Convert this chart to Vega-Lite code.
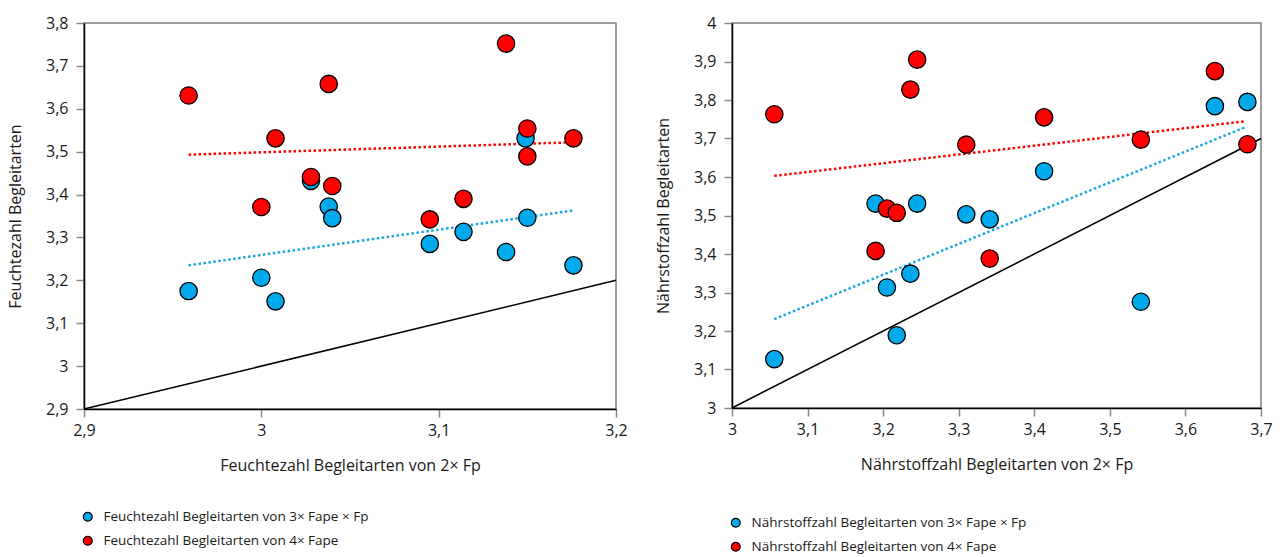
{
  "$schema": "https://vega.github.io/schema/vega-lite/v6.json",
  "padding": {"left": 6, "top": 14, "right": 18, "bottom": 0},
  "autosize": {"type": "pad"},
  "spacing": 26,
  "config": {
    "locale": {"number": {"decimal": ",", "thousands": ".", "grouping": [3], "currency": ["", " €"]}},
    "font": "Open Sans",
    "view": {"stroke": "#7f7f7f", "strokeWidth": 1.5},
    "axis": {
      "grid": false, "domainColor": "#000000", "domainWidth": 1.5,
      "tickColor": "#888888", "tickSize": 8, "tickWidth": 1.5,
      "labelFontSize": 16, "labelColor": "#1a1a1a", "titleFontSize": 16,
      "titleFontWeight": "normal", "titleColor": "#1a1a1a", "format": "~g", "labelFlush": false
    },
    "axisY": {"labelPadding": 8, "titlePadding": 22},
    "axisX": {"labelPadding": 5, "titlePadding": 19},
    "legend": {
      "title": null, "orient": "none", "symbolType": "circle", "symbolSize": 80,
      "symbolStrokeColor": "#000000", "symbolStrokeWidth": 1.2, "labelFontSize": 13.5, "labelLimit": 0,
      "labelColor": "#1a1a1a", "rowPadding": 9, "labelOffset": 9, "direction": "vertical"
    }
  },
  "datasets": {
    "feuchte": [
      {"x": 2.959, "y": 3.175, "serie": "Feuchtezahl Begleitarten von 3× Fape × Fp"},
      {"x": 3.0, "y": 3.206, "serie": "Feuchtezahl Begleitarten von 3× Fape × Fp"},
      {"x": 3.008, "y": 3.151, "serie": "Feuchtezahl Begleitarten von 3× Fape × Fp"},
      {"x": 3.028, "y": 3.432, "serie": "Feuchtezahl Begleitarten von 3× Fape × Fp"},
      {"x": 3.038, "y": 3.372, "serie": "Feuchtezahl Begleitarten von 3× Fape × Fp"},
      {"x": 3.04, "y": 3.345, "serie": "Feuchtezahl Begleitarten von 3× Fape × Fp"},
      {"x": 3.095, "y": 3.285, "serie": "Feuchtezahl Begleitarten von 3× Fape × Fp"},
      {"x": 3.114, "y": 3.313, "serie": "Feuchtezahl Begleitarten von 3× Fape × Fp"},
      {"x": 3.138, "y": 3.266, "serie": "Feuchtezahl Begleitarten von 3× Fape × Fp"},
      {"x": 3.149, "y": 3.531, "serie": "Feuchtezahl Begleitarten von 3× Fape × Fp"},
      {"x": 3.15, "y": 3.346, "serie": "Feuchtezahl Begleitarten von 3× Fape × Fp"},
      {"x": 3.176, "y": 3.235, "serie": "Feuchtezahl Begleitarten von 3× Fape × Fp"},
      {"x": 2.959, "y": 3.631, "serie": "Feuchtezahl Begleitarten von 4× Fape"},
      {"x": 3.0, "y": 3.371, "serie": "Feuchtezahl Begleitarten von 4× Fape"},
      {"x": 3.008, "y": 3.531, "serie": "Feuchtezahl Begleitarten von 4× Fape"},
      {"x": 3.028, "y": 3.441, "serie": "Feuchtezahl Begleitarten von 4× Fape"},
      {"x": 3.038, "y": 3.658, "serie": "Feuchtezahl Begleitarten von 4× Fape"},
      {"x": 3.04, "y": 3.42, "serie": "Feuchtezahl Begleitarten von 4× Fape"},
      {"x": 3.095, "y": 3.342, "serie": "Feuchtezahl Begleitarten von 4× Fape"},
      {"x": 3.114, "y": 3.39, "serie": "Feuchtezahl Begleitarten von 4× Fape"},
      {"x": 3.138, "y": 3.752, "serie": "Feuchtezahl Begleitarten von 4× Fape"},
      {"x": 3.15, "y": 3.554, "serie": "Feuchtezahl Begleitarten von 4× Fape"},
      {"x": 3.15, "y": 3.489, "serie": "Feuchtezahl Begleitarten von 4× Fape"},
      {"x": 3.176, "y": 3.531, "serie": "Feuchtezahl Begleitarten von 4× Fape"}
    ],
    "feuchte_trend": [
      {"x": 2.959, "y": 3.235, "serie": "blau"},
      {"x": 3.176, "y": 3.363, "serie": "blau"},
      {"x": 2.959, "y": 3.493, "serie": "rot"},
      {"x": 3.176, "y": 3.522, "serie": "rot"}
    ],
    "feuchte_diag": [
      {"x": 2.9, "y": 2.9},
      {"x": 3.2, "y": 3.2}
    ],
    "naehr": [
      {"x": 3.056, "y": 3.127, "serie": "Nährstoffzahl Begleitarten von 3× Fape × Fp"},
      {"x": 3.19, "y": 3.531, "serie": "Nährstoffzahl Begleitarten von 3× Fape × Fp"},
      {"x": 3.205, "y": 3.313, "serie": "Nährstoffzahl Begleitarten von 3× Fape × Fp"},
      {"x": 3.218, "y": 3.189, "serie": "Nährstoffzahl Begleitarten von 3× Fape × Fp"},
      {"x": 3.236, "y": 3.349, "serie": "Nährstoffzahl Begleitarten von 3× Fape × Fp"},
      {"x": 3.245, "y": 3.531, "serie": "Nährstoffzahl Begleitarten von 3× Fape × Fp"},
      {"x": 3.31, "y": 3.503, "serie": "Nährstoffzahl Begleitarten von 3× Fape × Fp"},
      {"x": 3.341, "y": 3.49, "serie": "Nährstoffzahl Begleitarten von 3× Fape × Fp"},
      {"x": 3.413, "y": 3.615, "serie": "Nährstoffzahl Begleitarten von 3× Fape × Fp"},
      {"x": 3.541, "y": 3.276, "serie": "Nährstoffzahl Begleitarten von 3× Fape × Fp"},
      {"x": 3.639, "y": 3.784, "serie": "Nährstoffzahl Begleitarten von 3× Fape × Fp"},
      {"x": 3.682, "y": 3.795, "serie": "Nährstoffzahl Begleitarten von 3× Fape × Fp"},
      {"x": 3.056, "y": 3.763, "serie": "Nährstoffzahl Begleitarten von 4× Fape"},
      {"x": 3.19, "y": 3.408, "serie": "Nährstoffzahl Begleitarten von 4× Fape"},
      {"x": 3.205, "y": 3.518, "serie": "Nährstoffzahl Begleitarten von 4× Fape"},
      {"x": 3.218, "y": 3.507, "serie": "Nährstoffzahl Begleitarten von 4× Fape"},
      {"x": 3.236, "y": 3.827, "serie": "Nährstoffzahl Begleitarten von 4× Fape"},
      {"x": 3.245, "y": 3.905, "serie": "Nährstoffzahl Begleitarten von 4× Fape"},
      {"x": 3.31, "y": 3.684, "serie": "Nährstoffzahl Begleitarten von 4× Fape"},
      {"x": 3.341, "y": 3.388, "serie": "Nährstoffzahl Begleitarten von 4× Fape"},
      {"x": 3.413, "y": 3.755, "serie": "Nährstoffzahl Begleitarten von 4× Fape"},
      {"x": 3.541, "y": 3.697, "serie": "Nährstoffzahl Begleitarten von 4× Fape"},
      {"x": 3.639, "y": 3.875, "serie": "Nährstoffzahl Begleitarten von 4× Fape"},
      {"x": 3.682, "y": 3.685, "serie": "Nährstoffzahl Begleitarten von 4× Fape"}
    ],
    "naehr_trend": [
      {"x": 3.056, "y": 3.231, "serie": "blau"},
      {"x": 3.68, "y": 3.73, "serie": "blau"},
      {"x": 3.056, "y": 3.603, "serie": "rot"},
      {"x": 3.68, "y": 3.745, "serie": "rot"}
    ],
    "naehr_diag": [
      {"x": 3.0, "y": 3.0},
      {"x": 3.7, "y": 3.7}
    ]
  },
  "hconcat": [
    {
      "width": 532,
      "height": 386,
      "encoding": {
        "x": {"field": "x", "type": "quantitative", "scale": {"domain": [2.9, 3.2], "nice": false, "zero": false},
              "axis": {"values": [2.9, 3.0, 3.1, 3.2], "title": "Feuchtezahl Begleitarten von 2× Fp"}},
        "y": {"field": "y", "type": "quantitative", "scale": {"domain": [2.9, 3.8], "nice": false, "zero": false},
              "axis": {"values": [2.9, 3.0, 3.1, 3.2, 3.3, 3.4, 3.5, 3.6, 3.7, 3.8], "title": "Feuchtezahl Begleitarten"}}
      },
      "layer": [
        {"data": {"name": "feuchte_diag"}, "mark": {"type": "line", "color": "#000000", "strokeWidth": 1.5}},
        {"data": {"name": "feuchte_trend"}, "transform": [{"filter": "datum.serie == 'blau'"}],
         "mark": {"type": "line", "color": "#1aa7e6", "strokeWidth": 2.5, "strokeDash": [2.5, 2.5]}},
        {"data": {"name": "feuchte_trend"}, "transform": [{"filter": "datum.serie == 'rot'"}],
         "mark": {"type": "line", "color": "#ff0000", "strokeWidth": 2.5, "strokeDash": [2.5, 2.5]}},
        {"data": {"name": "feuchte"},
         "mark": {"type": "point", "filled": true, "size": 300, "stroke": "#000000", "strokeWidth": 1.3, "opacity": 1},
         "encoding": {
           "color": {"field": "serie", "type": "nominal",
                     "scale": {"domain": ["Feuchtezahl Begleitarten von 3× Fape × Fp", "Feuchtezahl Begleitarten von 4× Fape"], "range": ["#00a9ec", "#ff0000"]},
                     "legend": {"legendX": -3, "legendY": 487}}
         }}
      ]
    },
    {
      "width": 529,
      "height": 385,
      "encoding": {
        "x": {"field": "x", "type": "quantitative", "scale": {"domain": [3.0, 3.7], "nice": false, "zero": false},
              "axis": {"values": [3.0, 3.1, 3.2, 3.3, 3.4, 3.5, 3.6, 3.7], "title": "Nährstoffzahl Begleitarten von 2× Fp"}},
        "y": {"field": "y", "type": "quantitative", "scale": {"domain": [3.0, 4.0], "nice": false, "zero": false},
              "axis": {"values": [3.0, 3.1, 3.2, 3.3, 3.4, 3.5, 3.6, 3.7, 3.8, 3.9, 4.0], "title": "Nährstoffzahl Begleitarten"}}
      },
      "layer": [
        {"data": {"name": "naehr_diag"}, "mark": {"type": "line", "color": "#000000", "strokeWidth": 1.5}},
        {"data": {"name": "naehr_trend"}, "transform": [{"filter": "datum.serie == 'blau'"}],
         "mark": {"type": "line", "color": "#1aa7e6", "strokeWidth": 2.5, "strokeDash": [2.5, 2.5]}},
        {"data": {"name": "naehr_trend"}, "transform": [{"filter": "datum.serie == 'rot'"}],
         "mark": {"type": "line", "color": "#ff0000", "strokeWidth": 2.5, "strokeDash": [2.5, 2.5]}},
        {"data": {"name": "naehr"},
         "mark": {"type": "point", "filled": true, "size": 300, "stroke": "#000000", "strokeWidth": 1.3, "opacity": 1},
         "encoding": {
           "color": {"field": "serie", "type": "nominal",
                     "scale": {"domain": ["Nährstoffzahl Begleitarten von 3× Fape × Fp", "Nährstoffzahl Begleitarten von 4× Fape"], "range": ["#00a9ec", "#ff0000"]},
                     "legend": {"legendX": -3, "legendY": 493}}
         }}
      ]
    }
  ],
  "resolve": {"scale": {"color": "independent"}, "legend": {"color": "independent"}}
}
